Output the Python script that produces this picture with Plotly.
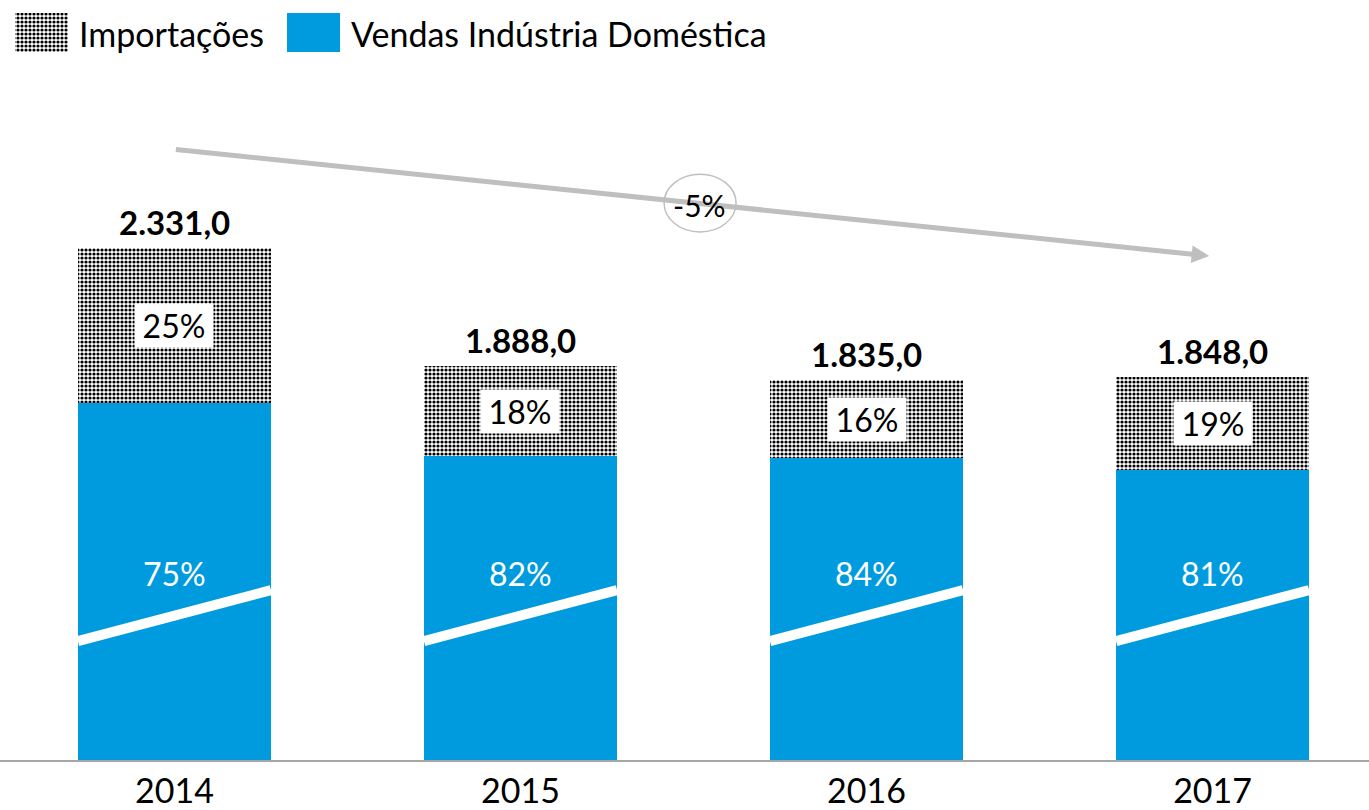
import plotly.graph_objects as go

# ---- data ----
years = ["2014", "2015", "2016", "2017"]
totals = [2331.0, 1888.0, 1835.0, 1848.0]
import_share = [25, 18, 16, 19]          # % Importações
domestic_share = [75, 82, 84, 81]        # % Vendas Indústria Doméstica
total_labels = ["2.331,0", "1.888,0", "1.835,0", "1.848,0"]
trend_label = "-5%"

# broken value axis (the white slash marks the break)
AXIS_BREAK = 410.0

imports = [t * s / 100 for t, s in zip(totals, import_share)]
domestic = [t - i for t, i in zip(totals, imports)]
domestic_shown = [d - AXIS_BREAK for d in domestic]

BLUE = "#009BDE"
FONT = "Lato"
xs = list(range(len(years)))

fig = go.Figure()
pattern = dict(shape=".", size=4, solidity=0.5, fgcolor="#000000", bgcolor="#ffffff", fillmode="replace")

fig.add_trace(go.Bar(x=xs, y=domestic_shown, marker=dict(color=BLUE, line=dict(width=0)),
                     name="Vendas Indústria Doméstica", showlegend=False, hoverinfo="skip"))
fig.add_trace(go.Bar(x=xs, y=imports, marker=dict(color="#808080", pattern=pattern, line=dict(width=0)),
                     name="Importações", showlegend=False, hoverinfo="skip"))

# legend swatches on an auxiliary pixel-like axis pair
fig.add_trace(go.Bar(x=[41.5], y=[39], base=[13], width=[53], xaxis="x2", yaxis="y2",
                     marker=dict(color="#808080", pattern=pattern, line=dict(width=0)),
                     showlegend=False, hoverinfo="skip"))
fig.add_trace(go.Bar(x=[313.5], y=[39], base=[13], width=[53], xaxis="x2", yaxis="y2",
                     marker=dict(color=BLUE, line=dict(width=0)),
                     showlegend=False, hoverinfo="skip"))

ann = []
ann.append(dict(x=77, y=33, xref="x2", yref="y2", text="Importações", showarrow=False,
                xanchor="left", yanchor="middle", font=dict(family=FONT, size=34, color="#000")))
ann.append(dict(x=349, y=33, xref="x2", yref="y2", text="Vendas Indústria Doméstica", showarrow=False,
                xanchor="left", yanchor="middle", font=dict(family=FONT, size=34, color="#000")))

half = 0.279
for i in xs:
    top = domestic_shown[i] + imports[i]
    ann.append(dict(x=i, y=top, xref="x", yref="y", text=f"<b>{total_labels[i]}</b>", showarrow=False,
                    yanchor="bottom", yshift=4, font=dict(family=FONT, size=33, color="#000")))
    ann.append(dict(x=i, y=domestic_shown[i] + imports[i] / 2, xref="x", yref="y",
                    text=f"{import_share[i]}%", showarrow=False, bgcolor="#ffffff",
                    width=76, height=41, font=dict(family=FONT, size=32, color="#000")))
    ann.append(dict(x=i, y=700, xref="x", yref="y", text=f"{domestic_share[i]}%", showarrow=False,
                    font=dict(family=FONT, size=32, color="#ffffff")))

# trend arrow
ann.append(dict(x=2.99, y=1890, ax=0.0, ay=2290, xref="x", yref="y", axref="x", ayref="y",
                showarrow=True, arrowhead=2, arrowsize=0.7, arrowwidth=5, arrowcolor="#BFBFBF", text=""))
ann.append(dict(x=1.518, y=2080, xref="x", yref="y", text=trend_label, showarrow=False,
                font=dict(family=FONT, size=30, color="#000")))

shapes = []
for i in xs:
    shapes.append(dict(type="line", xref="x", yref="y", x0=i - half, x1=i + half, y0=446, y1=637,
                       line=dict(color="#ffffff", width=10)))
shapes.append(dict(type="circle", xref="x", yref="y", x0=1.415, x1=1.623, y0=1980, y1=2197,
                   fillcolor="#ffffff", line=dict(color="#BFBFBF", width=1.5)))

fig.update_layout(
    width=1369, height=810,
    margin=dict(l=0, r=0, t=0, b=50),
    barmode="stack", bargap=0.442,
    plot_bgcolor="rgba(0,0,0,0)", paper_bgcolor="#ffffff",
    showlegend=False,
    annotations=ann, shapes=shapes,
    xaxis=dict(tickmode="array", tickvals=xs, ticktext=years, range=[-0.504, 3.452],
               showline=True, linecolor="#A6A6A6", linewidth=2, showgrid=False, zeroline=False,
               ticks="", tickfont=dict(family=FONT, size=34, color="#000")),
    yaxis=dict(range=[0, 2850], visible=False, showgrid=False, zeroline=False),
    xaxis2=dict(domain=[0, 1], range=[0, 1369], anchor="y2", visible=False),
    yaxis2=dict(domain=[0, 1], range=[760, 0], anchor="x2", visible=False),
)

fig.write_html("out.html", config={"displayModeBar": False},
               post_script="document.body.style.margin='0';")
